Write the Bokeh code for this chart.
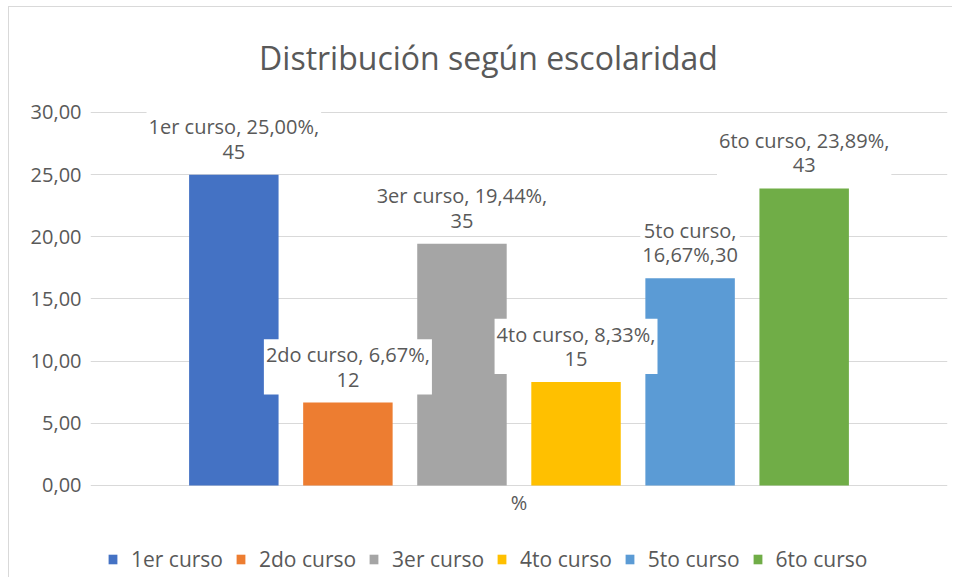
from bokeh.plotting import figure
from bokeh.models import (ColumnDataSource, FactorRange, Legend, LegendItem,
                          FixedTicker, CustomJSTickFormatter)
from bokeh.transform import dodge
from bokeh.core.properties import value
from bokeh.embed import file_html
from bokeh.resources import INLINE

# ---- data ----
category = ["%"]
courses = ["1er curso", "2do curso", "3er curso", "4to curso", "5to curso", "6to curso"]
percents = [25.00, 6.67, 19.44, 8.33, 16.67, 23.89]
counts = [45, 12, 35, 15, 30, 43]
colors = ["#4472C4", "#ED7D31", "#A5A5A5", "#FFC000", "#5B9BD5", "#70AD47"]
y_ticks = [0, 5, 10, 15, 20, 25, 30]
title_text = "Distribución según escolaridad"


def fmt(v):
    return f"{v:.2f}".replace(".", ",")


labels = [f"{c}, {fmt(pc)}%,\n{n}" for c, pc, n in zip(courses, percents, counts)]
labels[4] = f"{courses[4]},\n{fmt(percents[4])}%,{counts[4]}"

FONT = "Open Sans"
GREY = "#595959"
GRID = "#d9d9d9"

p = figure(width=944, height=571, output_backend="svg", toolbar_location=None,
           x_range=FactorRange(*category, range_padding=0), y_range=(-7.48, 38.445),
           min_border_left=81, min_border_right=6, min_border_top=0,
           min_border_bottom=0)
p.outline_line_color = None
p.background_fill_color = "white"
p.border_fill_color = "white"
p.styles = {"margin-left": "8px", "margin-top": "6px",
            "border-left": "1px solid #d9d9d9", "border-top": "1px solid #d9d9d9"}

# axes
p.yaxis.ticker = FixedTicker(ticks=y_ticks)
p.yaxis.formatter = CustomJSTickFormatter(code="return tick.toFixed(2).replace('.', ',');")
p.yaxis.axis_line_color = None
p.yaxis.major_tick_line_color = None
p.yaxis.major_tick_out = 0
p.yaxis.major_tick_in = 0
p.yaxis.minor_tick_line_color = None
p.yaxis.major_label_standoff = 9
p.yaxis.major_label_text_font = FONT
p.yaxis.major_label_text_font_size = "20px"
p.yaxis.major_label_text_color = GREY
p.xaxis.visible = False

p.xgrid.grid_line_color = None
p.ygrid.grid_line_color = GRID
p.ygrid.grid_line_width = 1

# title (inside the frame area)
tsrc = ColumnDataSource(dict(cat=category, y=[y_ticks[-1]], t=[title_text]))
p.text(x=dodge("cat", -0.0356, range=p.x_range), y="y", text="t", source=tsrc,
       text_align="center", text_baseline="middle", y_offset=-55,
       text_font=value(FONT), text_font_size="32px", text_color=GREY)

# category label under the baseline
csrc = ColumnDataSource(dict(cat=category, y=[y_ticks[0]], t=category))
p.text(x="cat", y="y", text="t", source=csrc, text_align="center",
       text_baseline="top", y_offset=4, text_font=value(FONT),
       text_font_size="20px", text_color=GREY)

spacing = 0.1331
bar_w = 0.1044
n = len(courses)
items = []
for i, (c, pc, cnt, col, lab) in enumerate(zip(courses, percents, counts, colors, labels)):
    src = ColumnDataSource(dict(cat=category, val=[pc], n=[cnt], label=[lab]))
    off = (i - (n - 1) / 2) * spacing
    r = p.vbar(x=dodge("cat", off, range=p.x_range), top="val", bottom=0, width=bar_w,
               source=src, fill_color=col, line_color=None)
    items.append(LegendItem(label=c, renderers=[r]))

for i, (c, pc, cnt, lab) in enumerate(zip(courses, percents, counts, labels)):
    src = ColumnDataSource(dict(cat=category, val=[pc], label=[lab]))
    off = (i - (n - 1) / 2) * spacing
    p.text(x=dodge("cat", off, range=p.x_range), y="val", text="label", source=src,
           text_align="center", text_baseline="bottom", y_offset=-8,
           text_font=value(FONT), text_font_size="20px", text_color=GREY,
           text_line_height=0.9,
           background_fill_color="white", padding=2)

legend = Legend(items=items, orientation="horizontal", location=(17, 5),
                label_text_font=FONT, label_text_font_size="21px",
                label_text_color=GREY, glyph_width=11, glyph_height=12,
                label_standoff=13, spacing=12, padding=0, margin=0,
                border_line_color=None, background_fill_alpha=0)
p.add_layout(legend, "center")

open("out.html", "w").write(file_html(p, INLINE))
